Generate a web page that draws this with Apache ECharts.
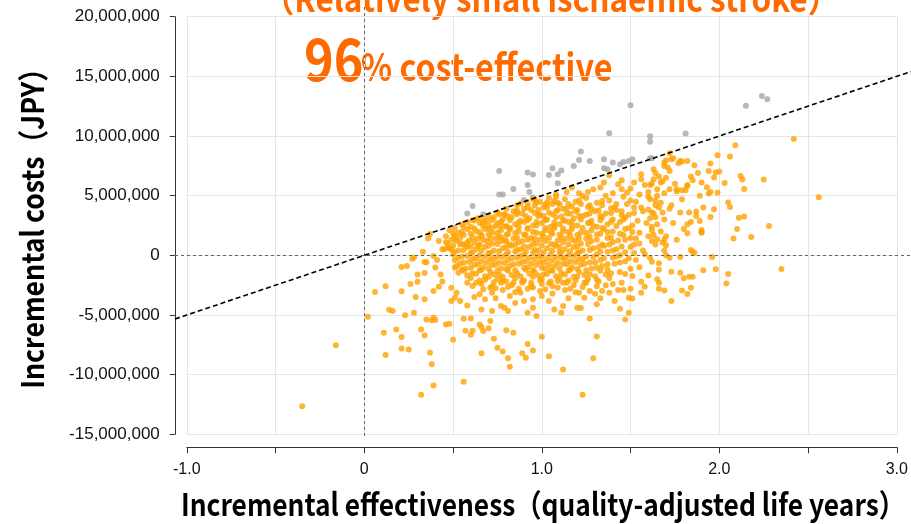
<!DOCTYPE html>
<html>
<head>
<meta charset="utf-8">
<title>Cost-effectiveness plane</title>
<script src="https://cdn.jsdelivr.net/npm/echarts@6/dist/echarts.min.js"></script>
<style>
    html, body { margin: 0; padding: 0; background: #fff; }
    #main { width: 911px; height: 524px; }
</style>
</head>
<body>
<div id="main"></div>
<script>
    // incremental QALY, incremental cost (million JPY) -- below the WTP line
    var costEffective = [
        // upper / right side
        [2.42, 9.76], [2.09, 9.23], [2.56, 4.87], [1.99, 8.39], [2.06, 8.28], [1.95, 7.69], [1.94, 7.07], [1.98, 6.94],
        [2.00, 7.02], [1.97, 6.52], [2.03, 6.07], [2.12, 6.65], [2.13, 6.35], [2.25, 6.35], [2.14, 5.56], [1.95, 5.31],
        [1.94, 5.18], [1.99, 5.24], [1.82, 5.90], [1.79, 5.45], [1.81, 5.45], [1.76, 5.54], [1.76, 5.34], [1.86, 7.55],
        [1.82, 7.91], [1.79, 7.86], [1.77, 7.72], [1.74, 8.14], [1.70, 7.97], [1.69, 7.49], [1.72, 7.07], [1.71, 7.36],
        [1.72, 8.56], [1.73, 8.05], [1.78, 7.91], [1.69, 7.77], [1.63, 7.21], [1.63, 6.38], [1.56, 6.38], [1.56, 6.80],
        [1.65, 5.54], [1.72, 5.54], [1.79, 4.70], [1.82, 5.82], [1.38, 6.71], [1.43, 5.96], [1.45, 5.54], [1.48, 5.26],
        [1.35, 6.10], [1.33, 5.68], [1.29, 5.54], [1.23, 4.98], [1.17, 5.68],
        [1.52, 6.1], [1.58, 5.9], [1.62, 6.0], [1.66, 6.6], [1.68, 6.2], [1.60, 5.3], [1.55, 5.1], [1.50, 5.6],
        [1.45, 6.3], [1.40, 5.2], [1.36, 5.0], [1.65, 5.0], [1.70, 6.5], [1.75, 6.0], [1.85, 6.3], [1.88, 6.9],
        [1.90, 6.1], [1.84, 6.6], [1.93, 5.7], [1.89, 5.0], [1.26, 5.3], [1.21, 5.2], [1.14, 5.3], [1.08, 5.1],
        [1.64, 6.9], [1.67, 6.1], [1.61, 5.9], [1.69, 5.2], [1.64, 4.6], [1.60, 4.9], [1.72, 3.9], [1.68, 3.6],
        [1.64, 3.2], [1.62, 2.4], [1.69, 1.3], [1.63, 1.7],
        [2.05, 4.42], [2.06, 4.05], [1.91, 4.00], [1.97, 3.86], [1.83, 3.58], [1.87, 3.67], [1.87, 3.30], [1.89, 2.88],
        [1.84, 2.79], [1.82, 2.60], [1.95, 3.21], [2.11, 3.16], [2.14, 3.25], [2.28, 2.46], [2.10, 2.21], [2.18, 1.54],
        [2.08, 1.40], [1.90, 2.12], [1.90, 1.95], [1.84, 0.44], [1.85, 0.28], [1.70, 0.84], [1.68, 1.07], [1.65, 1.34],
        [1.70, 0.0], [1.72, -0.2], [1.78, -0.14], [1.90, 1.90], [1.82, 1.85],
        [1.67, 4.4], [1.73, 4.2], [1.78, 3.6], [1.69, 3.0], [1.74, 2.7], [1.80, 2.2], [1.67, 2.0], [1.70, 1.6],
        [1.76, 1.3], [1.64, 0.9], [1.69, 0.4], [1.61, -0.2], [1.66, -1.2], [1.60, -1.7], [1.55, -1.0], [1.53, -0.4],
        [1.58, 0.1], [1.62, 1.2], [1.65, 2.6], [1.62, 3.6], [1.66, 4.0],
        // lower right
        [2.35, -1.15], [2.05, -1.57], [2.04, -2.37], [1.98, -1.17], [1.91, -1.26], [1.96, -0.14], [1.86, 0.22], [1.78, -1.45],
        [1.80, -1.93], [1.83, -1.79], [1.85, -1.79], [1.84, -2.71], [1.79, -2.94], [1.82, -3.24], [1.73, -1.37], [1.73, -3.83],
        [1.69, -2.94], [1.66, -2.80], [1.65, -2.01], [1.66, -2.29], [1.62, -0.53], [1.66, -0.67], [1.58, -2.63], [1.56, -3.13],
        [1.56, -2.21], [1.51, -1.73], [1.50, -1.12], [1.47, -1.57], [1.44, -1.40], [1.50, -2.80], [1.49, -3.55], [1.51, -3.61],
        [1.49, -4.81], [1.47, -5.37], [1.44, -4.47], [1.41, -3.83], [1.46, -2.91], [1.43, -2.91], [1.38, -3.13], [1.34, -2.99],
        [1.30, -3.21], [1.31, -4.11], [1.27, -5.29], [1.31, -6.80], [1.29, -8.62], [1.23, -11.69], [1.24, -3.55], [1.22, -4.42],
        // lower left
        [-0.35, -12.64], [-0.16, -7.53], [0.02, -5.14], [0.06, -3.08], [0.12, -2.60], [0.11, -6.49], [0.12, -8.36], [0.14, -4.56],
        [0.16, -4.67], [0.18, -6.21], [0.21, -6.85], [0.21, -7.80], [0.25, -7.89], [0.21, -3.02], [0.23, -5.03], [0.21, -0.98],
        [0.27, -0.28], [0.28, -4.81], [0.29, -3.50], [0.30, -2.21], [0.32, -6.21], [0.34, -6.71], [0.32, -11.69], [0.34, -3.69],
        [0.35, -0.59], [0.34, -1.48], [0.35, -5.37], [0.38, -5.45], [0.39, -5.23], [0.40, -5.43], [0.37, -8.16], [0.38, -9.12],
        [0.39, -10.91], [0.36, 1.40], [0.37, 1.79], [0.39, -2.99], [0.40, -1.03], [0.42, -2.63], [0.44, 0.50], [0.47, 0.65],
        [0.46, -5.79], [0.48, -5.73], [0.50, -7.07], [0.56, -10.60], [0.56, -5.31], [0.60, -5.29], [0.57, -6.32], [0.60, -6.65],
        [0.61, -6.32], [0.66, -8.20], [0.65, -5.79], [0.66, -6.01], [0.67, -6.35], [0.70, -6.12], [0.71, -5.51], [0.73, -6.99],
        [0.75, -7.75], [0.78, -8.05], [0.80, -6.27], [0.84, -6.49], [0.81, -8.62], [0.82, -9.34], [0.89, -8.20], [0.91, -8.58],
        [0.92, -7.44], [0.95, -7.97], [1.00, -6.82], [1.04, -8.45], [1.12, -9.56],
        // below the core
        [0.49, -2.71], [0.52, -3.13], [0.51, -3.55], [0.54, -3.83], [0.49, -3.83], [0.53, -1.45], [0.51, -1.03], [0.58, -2.29],
        [0.61, -2.57], [0.67, -2.85], [0.71, -2.71], [0.65, -3.27], [0.68, -3.69], [0.66, -4.53], [0.72, -4.67], [0.72, -3.13],
        [0.77, -4.25], [0.79, -4.39], [0.81, -4.67], [0.82, -3.41], [0.88, -3.13], [0.90, -3.83], [0.95, -3.69], [0.95, -4.39],
        [0.97, -5.09], [0.92, -4.81], [1.04, -3.83], [1.07, -4.53], [1.12, -4.25], [1.11, -4.81], [1.20, -4.39], [1.21, -3.13],
        [1.27, -2.99], [0.58, -4.2], [0.62, -3.5], [0.74, -3.6], [0.85, -4.0], [1.00, -3.4], [1.15, -3.6], [1.33, -3.6],
        [1.36, -2.5], [1.40, -2.4], [1.45, -2.3],
        // near the WTP line, left side
        [0.67, 3.05], [0.61, 2.95], [0.79, 3.44], [0.80, 2.46], [0.86, 3.58], [0.88, 4.35], [0.96, 4.70], [1.03, 4.42],
        [1.08, 4.92], [1.10, 4.28], [0.51, 1.62], [0.54, 0.92], [0.45, 0.50], [0.49, 0.50], [0.39, -0.06], [0.34, -0.56],
        [0.28, -0.19], [0.24, -0.90], [0.58, 1.06], [0.64, 0.78], [0.66, 1.62], [0.70, 2.18], [0.74, 2.46], [0.77, 1.48],
        [0.80, 1.20], [0.43, -1.6], [0.41, -0.4], [0.44, -2.2], [0.46, 1.1], [0.42, 1.2], [0.33, 0.3], [0.30, -1.6],
        [0.26, -2.4],
        // dense core
        [0.95, 4.7], [0.99, 4.5], [1.04, 4.8], [1.09, 4.4], [1.13, 4.7], [1.19, 4.5], [1.25, 4.8], [1.31, 4.4],
        [1.38, 4.6], [1.46, 4.9], [1.53, 4.5], [1.61, 4.7],
        [0.92, 4.3], [0.97, 4.45], [1.02, 4.25], [1.07, 4.55], [1.15, 4.3], [1.21, 4.6], [1.27, 4.2], [1.34, 4.55],
        [1.42, 4.3], [1.50, 4.6],
        [0.86, 4.2], [0.90, 3.9], [0.96, 4.2], [1.01, 4.0], [1.06, 4.3], [1.12, 3.9], [1.17, 4.1], [1.22, 4.3],
        [1.28, 3.9], [1.34, 4.2], [1.41, 4.0], [1.48, 4.3], [1.56, 4.0], [1.64, 4.2],
        [0.80, 3.9], [0.86, 3.75], [0.92, 4.0], [0.98, 3.8], [1.03, 4.05], [1.08, 3.7], [1.14, 3.95], [1.20, 3.8],
        [1.26, 4.05], [1.32, 3.75], [1.39, 3.95], [1.45, 3.7], [1.52, 4.0], [1.60, 3.85],
        [0.75, 3.6], [0.79, 3.4], [0.84, 3.7], [0.89, 3.5], [0.94, 3.8], [0.99, 3.4], [1.04, 3.6], [1.09, 3.8],
        [1.14, 3.5], [1.19, 3.7], [1.25, 3.4], [1.30, 3.7], [1.36, 3.5], [1.42, 3.8], [1.49, 3.4], [1.57, 3.7], [1.63, 3.5],
        [0.70, 3.3], [0.76, 3.45], [0.81, 3.25], [0.86, 3.45], [0.91, 3.3], [0.96, 3.55], [1.01, 3.3], [1.06, 3.45],
        [1.11, 3.25], [1.16, 3.5], [1.21, 3.3], [1.27, 3.5], [1.33, 3.3], [1.39, 3.55], [1.45, 3.35], [1.52, 3.55],
        [0.64, 3.1], [0.69, 2.9], [0.73, 3.2], [0.78, 3.0], [0.83, 3.2], [0.88, 2.9], [0.93, 3.1], [0.98, 3.3],
        [1.03, 3.0], [1.08, 3.2], [1.13, 2.9], [1.18, 3.1], [1.23, 3.3], [1.28, 2.9], [1.34, 3.2], [1.40, 3.0],
        [1.47, 3.2], [1.54, 2.9], [1.61, 3.1],
        [0.58, 2.8], [0.62, 2.95], [0.67, 2.75], [0.72, 2.95], [0.77, 2.8], [0.82, 2.95], [0.87, 2.75], [0.92, 2.95],
        [0.97, 2.8], [1.02, 2.95], [1.07, 2.75], [1.12, 2.95], [1.17, 2.8], [1.22, 3.0], [1.27, 2.75], [1.33, 2.95],
        [1.39, 2.8], [1.46, 3.0],
        [0.55, 2.6], [0.60, 2.4], [0.65, 2.7], [0.70, 2.5], [0.75, 2.7], [0.80, 2.4], [0.85, 2.6], [0.90, 2.8],
        [0.95, 2.5], [1.00, 2.7], [1.05, 2.4], [1.10, 2.6], [1.15, 2.8], [1.20, 2.5], [1.26, 2.7], [1.31, 2.4],
        [1.37, 2.6], [1.44, 2.8], [1.51, 2.5], [1.59, 2.7],
        [0.51, 2.3], [0.56, 2.4], [0.62, 2.25], [0.67, 2.45], [0.72, 2.3], [0.77, 2.45], [0.82, 2.2], [0.87, 2.4],
        [0.92, 2.3], [0.97, 2.5], [1.02, 2.3], [1.07, 2.45], [1.12, 2.25], [1.17, 2.45], [1.23, 2.3], [1.29, 2.45],
        [1.35, 2.2], [1.42, 2.45], [1.49, 2.3],
        [0.48, 2.1], [0.53, 1.9], [0.58, 2.2], [0.63, 2.0], [0.68, 2.2], [0.72, 1.9], [0.77, 2.1], [0.82, 2.3],
        [0.87, 2.0], [0.92, 2.2], [0.97, 1.9], [1.02, 2.1], [1.07, 2.3], [1.12, 2.0], [1.17, 2.2], [1.22, 1.9],
        [1.28, 2.1], [1.34, 2.3], [1.40, 2.0], [1.47, 2.2], [1.55, 1.9], [1.62, 2.1],
        [0.50, 1.8], [0.55, 1.95], [0.60, 1.8], [0.65, 1.95], [0.70, 1.75], [0.75, 1.9], [0.80, 1.7], [0.85, 1.9],
        [0.90, 1.75], [0.95, 1.95], [1.00, 1.8], [1.05, 1.95], [1.10, 1.75], [1.15, 1.95], [1.20, 1.7], [1.25, 1.9],
        [1.31, 1.75], [1.37, 1.95], [1.44, 1.8], [1.51, 1.95],
        [0.46, 1.6], [0.51, 1.4], [0.56, 1.7], [0.61, 1.5], [0.66, 1.7], [0.71, 1.4], [0.76, 1.6], [0.81, 1.8],
        [0.86, 1.5], [0.91, 1.7], [0.96, 1.4], [1.01, 1.6], [1.06, 1.8], [1.11, 1.5], [1.16, 1.7], [1.21, 1.4],
        [1.27, 1.6], [1.33, 1.8], [1.39, 1.5], [1.46, 1.7], [1.53, 1.4], [1.60, 1.6],
        [0.49, 1.3], [0.54, 1.45], [0.59, 1.25], [0.64, 1.4], [0.69, 1.2], [0.74, 1.4], [0.79, 1.25], [0.84, 1.4],
        [0.89, 1.2], [0.94, 1.45], [0.99, 1.3], [1.04, 1.45], [1.09, 1.25], [1.14, 1.4], [1.19, 1.2], [1.25, 1.4],
        [1.31, 1.3], [1.37, 1.45], [1.43, 1.25], [1.50, 1.45],
        [0.47, 1.0], [0.52, 1.2], [0.57, 0.9], [0.62, 1.1], [0.67, 1.3], [0.72, 1.0], [0.77, 1.2], [0.82, 0.9],
        [0.87, 1.1], [0.92, 1.3], [0.97, 1.0], [1.02, 1.2], [1.07, 0.9], [1.12, 1.1], [1.17, 1.3], [1.22, 1.0],
        [1.28, 1.2], [1.34, 0.9], [1.40, 1.1], [1.47, 1.3], [1.55, 1.0],
        [0.50, 0.8], [0.55, 0.95], [0.60, 0.75], [0.65, 0.9], [0.70, 0.8], [0.75, 0.95], [0.80, 0.7], [0.85, 0.9],
        [0.90, 0.75], [0.95, 0.95], [1.00, 0.8], [1.05, 0.95], [1.10, 0.7], [1.15, 0.9], [1.20, 0.75], [1.26, 0.95],
        [1.32, 0.7], [1.38, 0.9], [1.45, 0.75], [1.52, 0.9],
        [0.48, 0.6], [0.53, 0.4], [0.58, 0.7], [0.63, 0.5], [0.68, 0.7], [0.73, 0.4], [0.78, 0.6], [0.83, 0.8],
        [0.88, 0.5], [0.93, 0.7], [0.98, 0.4], [1.03, 0.6], [1.08, 0.8], [1.13, 0.5], [1.18, 0.7], [1.23, 0.4],
        [1.29, 0.6], [1.35, 0.8], [1.42, 0.5], [1.50, 0.7], [1.57, 0.4],
        [0.51, 0.3], [0.56, 0.45], [0.61, 0.25], [0.66, 0.4], [0.71, 0.2], [0.76, 0.35], [0.81, 0.25], [0.86, 0.45],
        [0.91, 0.3], [0.96, 0.45], [1.01, 0.25], [1.06, 0.4], [1.11, 0.2], [1.16, 0.35], [1.21, 0.25], [1.27, 0.45],
        [1.33, 0.3], [1.40, 0.4], [1.47, 0.25],
        [0.50, 0.1], [0.55, -0.1], [0.60, 0.2], [0.65, 0.0], [0.70, 0.2], [0.75, -0.1], [0.80, 0.1], [0.85, 0.3],
        [0.90, 0.0], [0.95, 0.2], [1.00, -0.1], [1.05, 0.1], [1.10, 0.3], [1.15, 0.0], [1.20, 0.2], [1.25, -0.1],
        [1.31, 0.1], [1.37, 0.3], [1.44, 0.0], [1.52, 0.2],
        [0.53, -0.2], [0.58, -0.05], [0.63, -0.25], [0.68, -0.1], [0.73, -0.3], [0.78, -0.15], [0.83, -0.25], [0.88, -0.05],
        [0.93, -0.2], [0.98, -0.05], [1.03, -0.3], [1.08, -0.15], [1.13, -0.25], [1.18, -0.05], [1.23, -0.3], [1.29, -0.15],
        [1.35, -0.25], [1.42, -0.1], [1.49, -0.25],
        [0.51, -0.4], [0.56, -0.6], [0.61, -0.3], [0.66, -0.5], [0.71, -0.3], [0.76, -0.6], [0.81, -0.4], [0.86, -0.2],
        [0.91, -0.5], [0.96, -0.3], [1.01, -0.6], [1.06, -0.4], [1.11, -0.2], [1.16, -0.5], [1.21, -0.3], [1.27, -0.6],
        [1.33, -0.4], [1.40, -0.2], [1.47, -0.5],
        [0.54, -0.7], [0.59, -0.55], [0.64, -0.75], [0.69, -0.6], [0.74, -0.8], [0.79, -0.65], [0.84, -0.75], [0.89, -0.55],
        [0.94, -0.7], [0.99, -0.55], [1.04, -0.8], [1.09, -0.65], [1.14, -0.75], [1.19, -0.55], [1.24, -0.7], [1.30, -0.6],
        [1.37, -0.75], [1.44, -0.6],
        [0.52, -0.9], [0.57, -1.1], [0.62, -0.8], [0.67, -1.0], [0.72, -0.8], [0.77, -1.1], [0.82, -0.9], [0.87, -0.7],
        [0.92, -1.0], [0.97, -0.8], [1.02, -1.1], [1.07, -0.9], [1.12, -0.7], [1.17, -1.0], [1.22, -0.8], [1.28, -1.1],
        [1.34, -0.9], [1.41, -0.7],
        [0.55, -1.2], [0.60, -1.05], [0.65, -1.25], [0.70, -1.1], [0.75, -1.3], [0.80, -1.15], [0.85, -1.25], [0.90, -1.05],
        [0.95, -1.2], [1.00, -1.05], [1.05, -1.25], [1.10, -1.1], [1.15, -1.3], [1.20, -1.15], [1.25, -1.25], [1.31, -1.05],
        [1.37, -1.2],
        [0.56, -1.3], [0.61, -1.5], [0.66, -1.2], [0.71, -1.4], [0.76, -1.6], [0.81, -1.3], [0.86, -1.5], [0.91, -1.2],
        [0.96, -1.4], [1.01, -1.6], [1.06, -1.3], [1.11, -1.5], [1.16, -1.2], [1.21, -1.4], [1.27, -1.6], [1.33, -1.3],
        [1.39, -1.5],
        [0.58, -1.7], [0.63, -1.55], [0.68, -1.75], [0.73, -1.6], [0.78, -1.8], [0.83, -1.65], [0.88, -1.75], [0.93, -1.55],
        [0.98, -1.7], [1.03, -1.55], [1.08, -1.75], [1.13, -1.6], [1.18, -1.8], [1.24, -1.65], [1.30, -1.75], [1.36, -1.6],
        [0.60, -1.9], [0.65, -2.1], [0.70, -1.8], [0.75, -2.0], [0.80, -2.2], [0.85, -1.9], [0.90, -2.1], [0.95, -1.8],
        [1.00, -2.0], [1.05, -2.2], [1.10, -1.9], [1.15, -2.1], [1.20, -1.8], [1.26, -2.0], [1.32, -2.2], [1.38, -1.9],
        [0.63, -2.3], [0.68, -2.05], [0.73, -2.25], [0.78, -2.1], [0.84, -2.3], [0.89, -2.15], [0.94, -2.3], [0.99, -2.1],
        [1.04, -2.35], [1.09, -2.15], [1.14, -2.3], [1.19, -2.1], [1.25, -2.3], [1.31, -2.05],
        [0.66, -2.4], [0.72, -2.6], [0.77, -2.3], [0.83, -2.5], [0.89, -2.3], [0.94, -2.6], [1.00, -2.4], [1.06, -2.6],
        [1.12, -2.3], [1.18, -2.5], [1.24, -2.3], [1.31, -2.6],
        [0.74, -2.75], [0.81, -2.65], [0.87, -2.8], [0.95, -2.7], [1.02, -2.85], [1.09, -2.7], [1.16, -2.8], [1.23, -2.65],
        [0.78, -2.9], [0.85, -3.1], [0.92, -2.8], [0.99, -3.0], [1.06, -3.2], [1.13, -2.9], [1.19, -3.1]
    ];

    // above the WTP line
    var notCostEffective = [
        [1.50, 12.58], [1.38, 10.23], [1.61, 9.98], [1.61, 9.51], [1.81, 10.21], [1.22, 8.70], [1.21, 8.00], [1.27, 7.91],
        [1.35, 8.05], [1.40, 7.77], [1.44, 7.63], [1.46, 7.83], [1.49, 7.91], [1.51, 8.05], [1.61, 8.14], [1.62, 8.14],
        [1.35, 7.30], [1.37, 7.21], [1.18, 7.49], [1.06, 7.30], [1.04, 6.74], [1.11, 7.10], [1.09, 6.80], [1.09, 6.04],
        [0.92, 6.94], [0.95, 6.77], [0.92, 5.90], [0.93, 5.31], [0.84, 5.56], [0.76, 7.07], [0.76, 5.09], [0.78, 5.09],
        [0.61, 4.14], [0.58, 3.50], [0.67, 3.44], [0.90, 4.64], [0.95, 4.84], [2.24, 13.36], [2.27, 13.09], [2.15, 12.53]
    ];

    var wtp = 5000000;                // JPY per QALY
    var wtpLineX = [-1.0665, 3.08];   // the line runs across the full plot width
    var shareCostEffective = 96;
    var subgroupTitle = '（Relatively small ischaemic stroke）';
    var xTitle = 'Incremental effectiveness（quality-adjusted life years）';
    var yTitle = 'Incremental costs（JPY）';

    var ORANGE_TEXT = '#FF6A00';
    var CJK_FONT = '"Noto Sans CJK JP", "Noto Sans", sans-serif';
    var LABEL_FONT = '"Liberation Sans", Arial, sans-serif';

    function toYen(list) {
        var res = [];
        for (var i = 0; i < list.length; i++) {
            res.push([list[i][0], list[i][1] * 1000000]);
        }
        return res;
    }

    var myChart = echarts.init(document.getElementById('main'));

    var option = {
        animation: false,
        backgroundColor: '#fff',
        grid: [
            // visible axes, ticks -1..3 and -15M..20M
            {left: 186.8, right: 14.2, top: 16.7, bottom: 89.7},
            // same scale, full plot frame (for the reference lines)
            {left: 175, right: 0, top: 5, bottom: 88}
        ],
        xAxis: [
            {
                type: 'value',
                gridIndex: 0,
                min: -1,
                max: 3,
                interval: 0.5,
                offset: 13,
                axisLine: {onZero: false, lineStyle: {color: '#333', width: 1}},
                axisTick: {length: 6, lineStyle: {color: '#333'}},
                axisLabel: {
                    fontFamily: LABEL_FONT,
                    fontSize: 16,
                    color: '#111',
                    margin: 14,
                    formatter: function (v) {
                        if (Math.abs(v - Math.round(v)) > 1e-9) return '';
                        return v === 0 ? '0' : v.toFixed(1);
                    }
                },
                splitLine: {show: true, lineStyle: {color: '#e6e6e6', width: 1}}
            },
            {type: 'value', gridIndex: 1, min: wtpLineX[0], max: wtpLineX[1], show: false}
        ],
        yAxis: [
            {
                type: 'value',
                gridIndex: 0,
                min: -15000000,
                max: 20000000,
                interval: 5000000,
                offset: 12,
                axisLine: {show: true, onZero: false, lineStyle: {color: '#333', width: 1}},
                axisTick: {show: true, length: 5, lineStyle: {color: '#333'}},
                axisLabel: {
                    fontFamily: LABEL_FONT,
                    fontSize: 17,
                    color: '#111',
                    margin: 15,
                    formatter: function (v) { return echarts.format.addCommas(v); }
                },
                splitLine: {show: true, lineStyle: {color: '#e6e6e6', width: 1}}
            },
            {type: 'value', gridIndex: 1, min: -15140000, max: 20980000, show: false}
        ],
        series: [
            {
                name: 'not cost-effective',
                type: 'scatter',
                symbolSize: 6,
                itemStyle: {color: '#a6a6a6'},
                data: toYen(notCostEffective)
            },
            {
                name: 'cost-effective',
                type: 'scatter',
                symbolSize: 6,
                itemStyle: {color: '#ffa200'},
                data: toYen(costEffective)
            },
            {
                name: 'WTP',
                type: 'line',
                xAxisIndex: 1,
                yAxisIndex: 1,
                symbol: 'none',
                silent: true,
                z: 5,
                lineStyle: {color: '#000', width: 1.6, type: [5, 3]},
                data: [[wtpLineX[0], wtpLineX[0] * wtp], [wtpLineX[1], wtpLineX[1] * wtp]],
                markLine: {
                    silent: true,
                    symbol: 'none',
                    label: {show: false},
                    lineStyle: {color: '#666', width: 1, type: [3, 3]},
                    data: [{xAxis: 0}, {yAxis: 0}]
                }
            }
        ],
        graphic: [
            {
                type: 'text',
                x: 551,
                y: -1,
                scaleX: 0.9,
                style: {
                    text: subgroupTitle,
                    fill: ORANGE_TEXT,
                    font: 'bold 35px ' + CJK_FONT,
                    align: 'center',
                    verticalAlign: 'middle'
                }
            },
            {
                type: 'text',
                x: 304,
                y: 59,
                scaleX: 0.87,
                style: {
                    text: String(shareCostEffective),
                    fill: ORANGE_TEXT,
                    font: 'bold 58px ' + CJK_FONT,
                    align: 'left',
                    verticalAlign: 'middle'
                }
            },
            {
                type: 'text',
                x: 361,
                y: 66.5,
                scaleX: 0.85,
                style: {
                    text: '% cost-effective',
                    fill: ORANGE_TEXT,
                    font: 'bold 38px ' + CJK_FONT,
                    align: 'left',
                    verticalAlign: 'middle'
                }
            },
            {
                type: 'text',
                x: 543,
                y: 504,
                scaleX: 0.85,
                style: {
                    text: xTitle,
                    fill: '#000',
                    font: 'bold 31px ' + CJK_FONT,
                    align: 'center',
                    verticalAlign: 'middle'
                }
            },
            {
                type: 'text',
                x: 32,
                y: 222,
                rotation: Math.PI / 2,
                scaleX: 0.86,
                style: {
                    text: yTitle,
                    fill: '#000',
                    font: 'bold 31px ' + CJK_FONT,
                    align: 'center',
                    verticalAlign: 'middle'
                }
            }
        ]
    };

    myChart.setOption(option);
</script>
</body>
</html>
